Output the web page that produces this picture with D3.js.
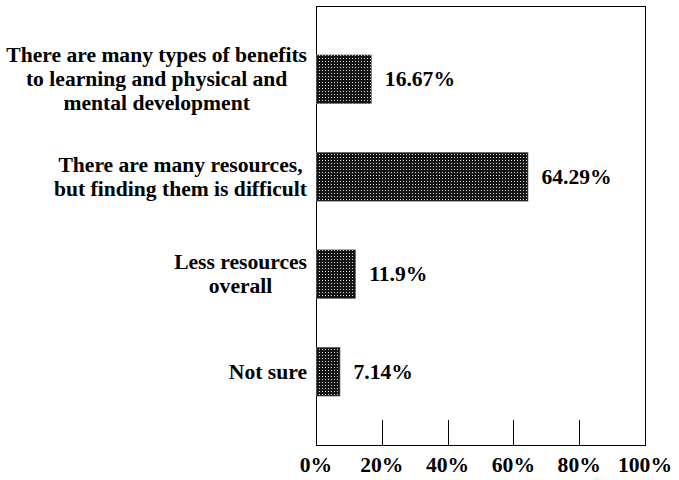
<!DOCTYPE html>
<html>
<head>
<meta charset="utf-8">
<script src="https://cdn.jsdelivr.net/npm/d3@7"></script>
<style>
  html, body { margin: 0; padding: 0; background: #fff; }
</style>
</head>
<body>
<svg id="chart" width="679" height="480"></svg>
<script>
// Survey responses (percent of respondents)
const categories = [
  ["There are many types of benefits", "to learning and physical and", "mental development"],
  ["There are many resources,", "but finding them is difficult"],
  ["Less resources", "overall"],
  ["Not sure"]
];
const values = [16.67, 64.29, 11.9, 7.14];
const valueLabels = ["16.67%", "64.29%", "11.9%", "7.14%"];
const tickValues = [0, 20, 40, 60, 80, 100];

const svg = d3.select("#chart");
const plot = { left: 316, right: 645, top: 6, bottom: 445 };
const fontSize = 20;
const stretch = 1.08;   // slightly widened lettering

const x = d3.scaleLinear().domain([0, 100]).range([plot.left, plot.right]);
const y = d3.scaleBand().domain(d3.range(categories.length))
  .range([30.6, 420.4]).paddingInner(0.5).paddingOuter(0.25);

// Place a widened bold serif text element anchored at (px, py)
function label(g, px, py, anchor, str) {
  return g.append("text")
    .attr("transform", `translate(${px},${py}) scale(${stretch},1)`)
    .attr("text-anchor", anchor)
    .attr("font-family", "Liberation Serif")
    .attr("font-weight", "bold")
    .attr("font-size", fontSize)
    .attr("fill", "#000")
    .text(str);
}

// Dotted fill used for the bars
const defs = svg.append("defs");
const pat = defs.append("pattern")
  .attr("id", "dots").attr("patternUnits", "userSpaceOnUse")
  .attr("width", 3).attr("height", 3);
pat.append("rect").attr("width", 3).attr("height", 3).attr("fill", "#141414");
pat.append("rect").attr("x", 1).attr("y", 1).attr("width", 1).attr("height", 1).attr("fill", "#d8d8d8");

// Plot frame
svg.append("rect")
  .attr("x", plot.left + 0.5).attr("y", plot.top + 0.5)
  .attr("width", plot.right - plot.left).attr("height", plot.bottom - plot.top)
  .attr("fill", "none").attr("stroke", "#000").attr("stroke-width", 1);

// Inward tick marks along the bottom edge
svg.append("g").selectAll("line")
  .data(tickValues.filter(t => t > 0 && t < 100))
  .join("line")
  .attr("x1", d => Math.round(x(d)) + 0.5).attr("x2", d => Math.round(x(d)) + 0.5)
  .attr("y1", plot.bottom - 25).attr("y2", plot.bottom)
  .attr("stroke", "#000").attr("stroke-width", 1);

// Tick labels
const tickG = svg.append("g");
tickValues.forEach(t => label(tickG, x(t), 472, "middle", t + "%"));

// Bars
svg.append("g").selectAll("rect")
  .data(values)
  .join("rect")
  .attr("x", x(0) + 0.5)
  .attr("y", (d, i) => y(i))
  .attr("width", d => x(d) - x(0))
  .attr("height", y.bandwidth())
  .attr("fill", "url(#dots)")
  .attr("stroke", "#666").attr("stroke-width", 0.6);

// Value labels
const valG = svg.append("g");
values.forEach((v, i) =>
  label(valG, x(v) + 14, y(i) + y.bandwidth() / 2 + 7, "start", valueLabels[i]));

// Category labels: lines centred within a block whose right edge sits near the axis
const lineH = 24;
const labelRight = 307;
const catG = svg.append("g");
categories.forEach((lines, i) => {
  const cy = y(i) + y.bandwidth() / 2;
  const lineY = j => cy + (j - (lines.length - 1) / 2) * lineH + 7;
  const texts = lines.map((ln, j) => label(catG, 0, lineY(j), "middle", ln));
  const maxW = d3.max(texts, t => t.node().getComputedTextLength()) * stretch;
  const cx = labelRight - maxW / 2;
  texts.forEach((t, j) =>
    t.attr("transform", `translate(${cx},${lineY(j)}) scale(${stretch},1)`));
});
</script>
</body>
</html>
